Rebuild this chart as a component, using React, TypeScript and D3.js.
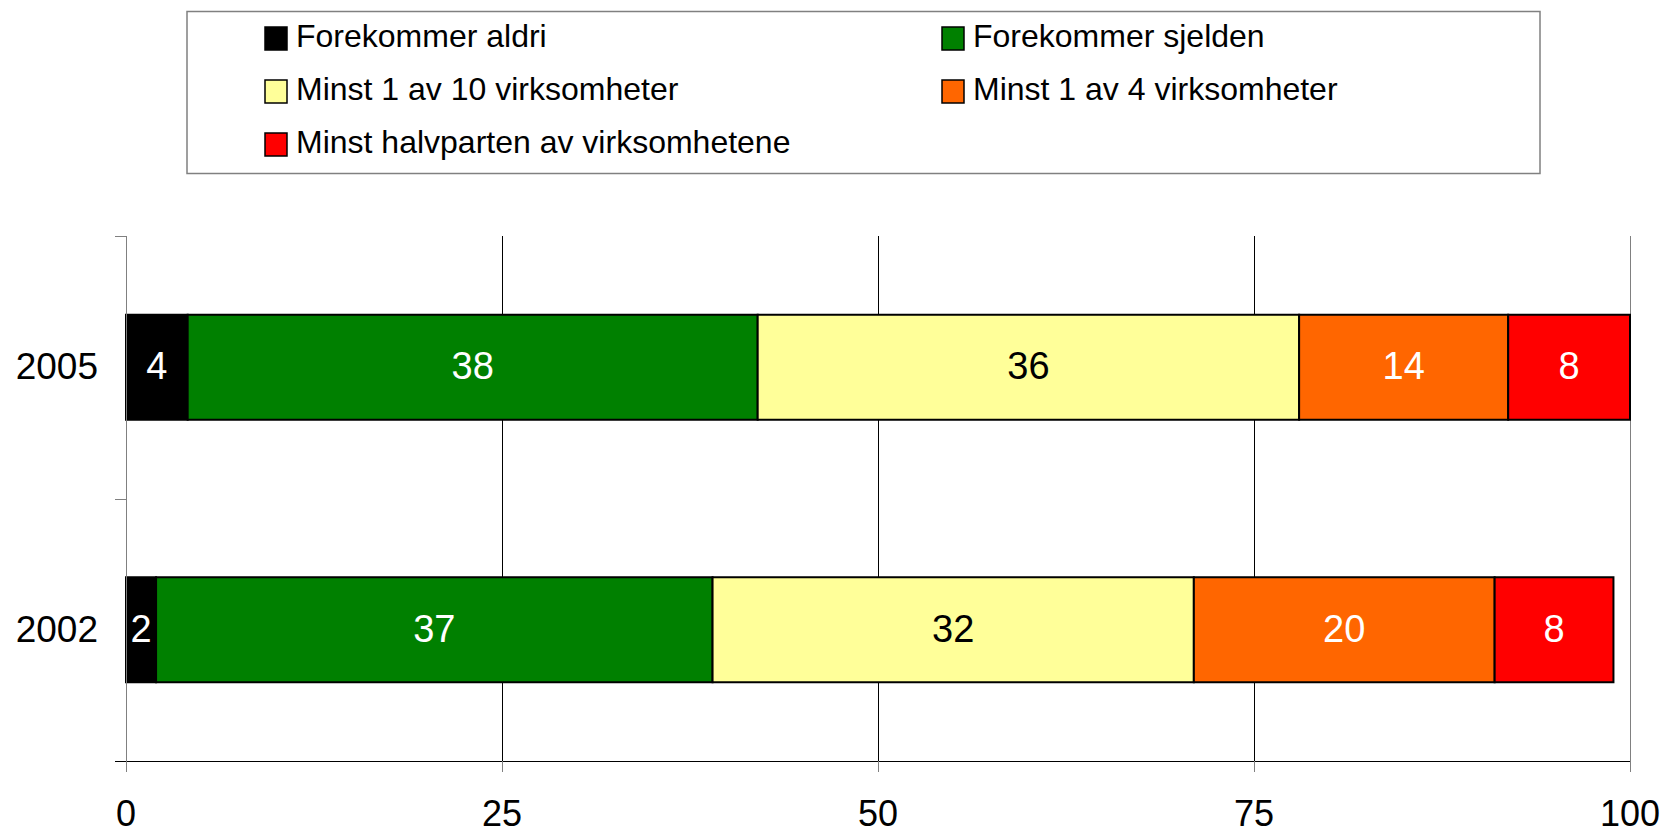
import React from 'react';
import * as d3 from 'd3';

const years = ['2005', '2002'];
const seriesNames = [
  'Forekommer aldri',
  'Forekommer sjelden',
  'Minst 1 av 10 virksomheter',
  'Minst 1 av 4 virksomheter',
  'Minst halvparten av virksomhetene',
];
const seriesColors = ['#000000', '#008000', '#FFFF99', '#FF6600', '#FF0000'];
const labelColors = ['#FFFFFF', '#FFFFFF', '#000000', '#FFFFFF', '#FFFFFF'];
const values2005 = [4.1, 37.9, 36.0, 13.9, 8.1];
const values2002 = [2.0, 37.0, 32.0, 20.0, 7.9];
const xTicks = [0, 25, 50, 75, 100];

const W = 1666;
const H = 834;
const FONT = '"Liberation Sans", Arial, Helvetica, sans-serif';

export default function App() {
  const x = d3.scaleLinear().domain([0, 100]).range([126, 1630]);
  const y = d3.scaleBand<string>().domain(years).range([236, 761]).paddingInner(0.6).paddingOuter(0.3);
  const rows = [values2005, values2002];
  const stacked = rows.map((vals, ri) => {
    let acc = 0;
    return vals.map((v, si) => {
      const seg = { year: years[ri], si, x0: acc, x1: acc + v, v };
      acc += v;
      return seg;
    });
  });
  const step = y.step();
  const catBoundaries = [236, 236 + step * 1, 761];

  const legendCols = [265, 942];
  const legendRows = [47, 100, 153];

  return (
    <svg width={W} height={H} style={{ position: 'absolute', left: 0, top: 0, display: 'block' }} fontFamily={FONT}>
      <rect x={0} y={0} width={W} height={H} fill="#fff" />
      {/* legend */}
      <rect x={187} y={11.5} width={1353} height={162} fill="#fff" stroke="#808080" strokeWidth={1.5} />
      {seriesNames.map((name, i) => {
        const col = i % 2;
        const row = Math.floor(i / 2);
        const mx = legendCols[col];
        const by = legendRows[row];
        return (
          <g key={name}>
            <rect x={mx} y={by - 20} width={22} height={23} fill={seriesColors[i]} stroke="#000" strokeWidth={1.5} />
            <text x={mx + 31} y={by} fontSize={32} fill="#000">{name}</text>
          </g>
        );
      })}
      {/* gridlines */}
      {xTicks.slice(1).map((t) => (
        <line key={t} x1={x(t) + 0.5} x2={x(t) + 0.5} y1={236} y2={761} stroke={t === 100 ? '#808080' : '#000'} strokeWidth={1} shapeRendering="crispEdges" />
      ))}
      {/* bars */}
      {stacked.map((segs) =>
        segs.map((s) => (
          <g key={s.year + s.si}>
            <rect
              x={x(s.x0)}
              y={y(s.year)}
              width={x(s.x1) - x(s.x0)}
              height={y.bandwidth()}
              fill={seriesColors[s.si]}
              stroke="#000"
              strokeWidth={2}
            />
            <text
              x={(x(s.x0) + x(s.x1)) / 2}
              y={(y(s.year) as number) + y.bandwidth() / 2}
              dy="0.31em"
              textAnchor="middle"
              fontSize={38}
              fill={labelColors[s.si]}
            >
              {Math.round(s.v)}
            </text>
          </g>
        ))
      )}
      {/* y axis */}
      <line x1={126.5} x2={126.5} y1={236} y2={772} stroke="#808080" strokeWidth={1} shapeRendering="crispEdges" />
      {catBoundaries.map((b, i) => (
        <line key={i} x1={115} x2={126} y1={Math.round(b) + 0.5} y2={Math.round(b) + 0.5} stroke="#808080" strokeWidth={1} shapeRendering="crispEdges" />
      ))}
      {years.map((yr) => (
        <text
          key={yr}
          x={98}
          y={(y(yr) as number) + y.bandwidth() / 2}
          dy="0.33em"
          textAnchor="end"
          fontSize={37}
          fill="#000"
        >
          {yr}
        </text>
      ))}
      {/* x axis */}
      <line x1={115} x2={1630} y1={761.5} y2={761.5} stroke="#000" strokeWidth={1} shapeRendering="crispEdges" />
      {xTicks.map((t) => (
        <g key={t}>
          <line x1={x(t) + 0.5} x2={x(t) + 0.5} y1={761} y2={772} stroke="#808080" strokeWidth={1} shapeRendering="crispEdges" />
          <text x={x(t)} y={826} textAnchor="middle" fontSize={36} fill="#000">
            {t}
          </text>
        </g>
      ))}
    </svg>
  );
}
